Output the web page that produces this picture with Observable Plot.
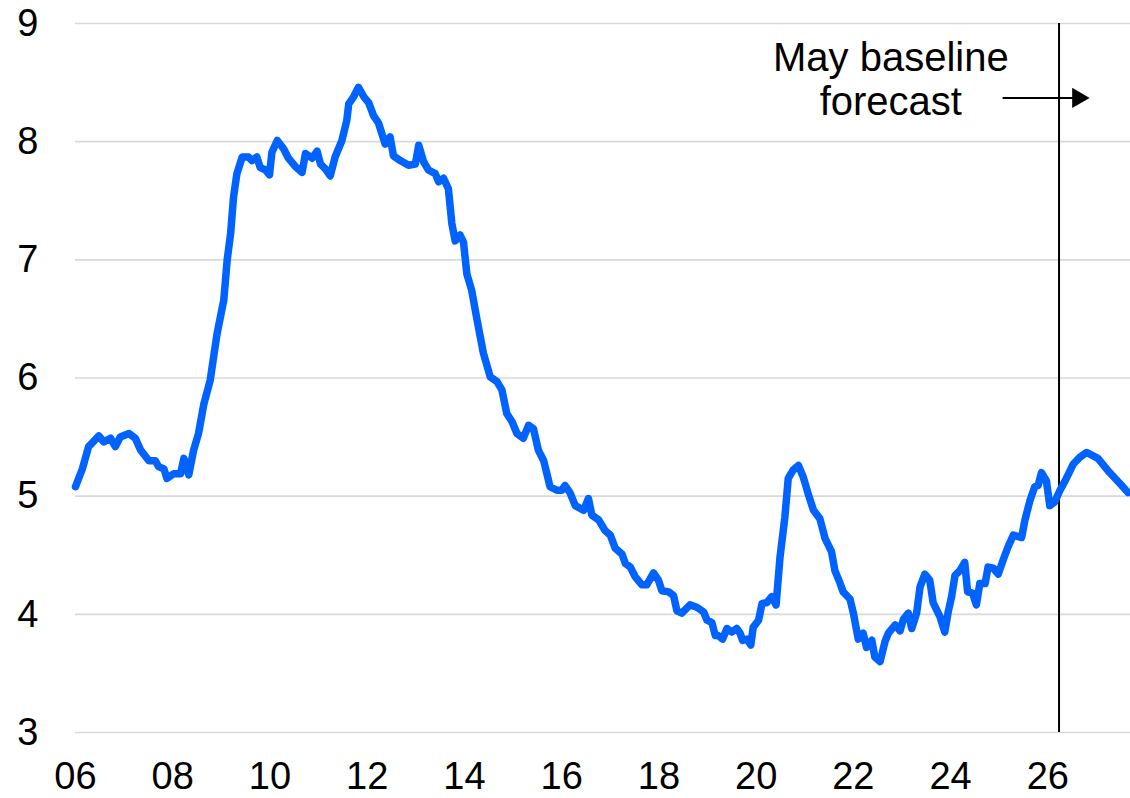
<!DOCTYPE html>
<html>
<head>
<meta charset="utf-8">
<script src="https://cdn.jsdelivr.net/npm/d3@7"></script>
<script src="https://cdn.jsdelivr.net/npm/@observablehq/plot@0.6"></script>
<style>
  html, body { margin: 0; padding: 0; background: #fff; }
  #chart svg { display: block; }
</style>
</head>
<body>
<div id="chart"></div>
<script>
// Decimal years of each reading
const years = [
  2006.00, 2006.14, 2006.27, 2006.48, 2006.58, 2006.72, 2006.82, 2006.92,
  2007.10, 2007.23, 2007.34, 2007.51, 2007.64, 2007.71, 2007.82, 2007.88,
  2008.02, 2008.16, 2008.23, 2008.33, 2008.43, 2008.53, 2008.64, 2008.77, 2008.91,
  2009.05, 2009.12, 2009.19, 2009.25, 2009.32, 2009.43, 2009.56, 2009.63, 2009.73, 2009.80, 2009.91, 2009.99,
  2010.04, 2010.15, 2010.28, 2010.38, 2010.52, 2010.66, 2010.73, 2010.87, 2010.97,
  2011.04, 2011.14, 2011.24, 2011.34, 2011.48, 2011.58, 2011.62, 2011.72, 2011.82, 2011.93,
  2012.03, 2012.13, 2012.23, 2012.37, 2012.47, 2012.54, 2012.68, 2012.85, 2012.99,
  2013.06, 2013.16, 2013.26, 2013.40, 2013.47, 2013.57, 2013.67, 2013.74, 2013.81, 2013.91, 2013.98,
  2014.05, 2014.15, 2014.26, 2014.39, 2014.53, 2014.67, 2014.77, 2014.87, 2014.98,
  2015.08, 2015.21, 2015.32, 2015.42, 2015.52, 2015.63, 2015.76, 2015.90,
  2016.00, 2016.07, 2016.17, 2016.28, 2016.45, 2016.55, 2016.62, 2016.76, 2016.89,
  2017.00, 2017.10, 2017.24, 2017.31, 2017.41, 2017.51, 2017.65, 2017.75, 2017.89, 2017.99,
  2018.06, 2018.20, 2018.30, 2018.37, 2018.47, 2018.64, 2018.78, 2018.92, 2018.99,
  2019.09, 2019.16, 2019.22, 2019.31, 2019.40, 2019.50, 2019.60, 2019.67, 2019.72, 2019.81, 2019.89, 2019.94,
  2020.05, 2020.12, 2020.22, 2020.32, 2020.41, 2020.49, 2020.59, 2020.66, 2020.76, 2020.87, 2020.97,
  2021.07, 2021.18, 2021.31, 2021.42, 2021.55, 2021.62, 2021.72, 2021.79, 2021.93,
  2022.00, 2022.10, 2022.20, 2022.27, 2022.38, 2022.44, 2022.55, 2022.65, 2022.72, 2022.86, 2022.96,
  2023.03, 2023.13, 2023.20, 2023.30, 2023.37, 2023.47, 2023.57, 2023.64, 2023.78, 2023.88, 2023.95,
  2024.02, 2024.09, 2024.19, 2024.29, 2024.35, 2024.45, 2024.53, 2024.60, 2024.71, 2024.77, 2024.88, 2024.98,
  2025.08, 2025.18, 2025.29, 2025.46, 2025.53, 2025.63, 2025.73, 2025.80, 2025.87, 2025.97,
  2026.04, 2026.14, 2026.25, 2026.38, 2026.52, 2026.66, 2026.80, 2027.03, 2027.27, 2027.52, 2027.65
];
// Values (%)
const rates = [
  5.08, 5.23, 5.42, 5.51, 5.46, 5.49, 5.42, 5.50,
  5.53, 5.49, 5.39, 5.30, 5.30, 5.25, 5.23, 5.15,
  5.19, 5.19, 5.32, 5.18, 5.39, 5.53, 5.78, 5.98, 6.37,
  6.66, 7.00, 7.22, 7.53, 7.73, 7.87, 7.87, 7.84, 7.87, 7.78, 7.76, 7.72,
  7.91, 8.01, 7.94, 7.86, 7.79, 7.74, 7.90, 7.86, 7.92,
  7.81, 7.77, 7.71, 7.87, 8.01, 8.18, 8.32, 8.38, 8.46, 8.38,
  8.33, 8.22, 8.16, 7.98, 8.04, 7.88, 7.84, 7.80, 7.81,
  7.97, 7.83, 7.76, 7.73, 7.66, 7.69, 7.60, 7.31, 7.16, 7.21, 7.15,
  6.88, 6.74, 6.49, 6.21, 6.01, 5.97, 5.90, 5.70, 5.63,
  5.53, 5.49, 5.60, 5.57, 5.39, 5.30, 5.08, 5.05,
  5.05, 5.09, 5.03, 4.92, 4.88, 4.98, 4.84, 4.80, 4.71,
  4.67, 4.56, 4.51, 4.43, 4.40, 4.32, 4.25, 4.25, 4.35, 4.29,
  4.20, 4.19, 4.16, 4.03, 4.01, 4.08, 4.06, 4.02, 3.95,
  3.93, 3.82, 3.82, 3.79, 3.88, 3.85, 3.88, 3.84, 3.78, 3.79, 3.74, 3.89,
  3.95, 4.09, 4.10, 4.15, 4.08, 4.48, 4.82, 5.15, 5.22, 5.26, 5.16,
  5.02, 4.88, 4.81, 4.64, 4.53, 4.37, 4.27, 4.19, 4.13,
  4.01, 3.79, 3.84, 3.72, 3.78, 3.64, 3.60, 3.77, 3.84, 3.91, 3.86,
  3.96, 4.01, 3.88, 4.01, 4.23, 4.34, 4.29, 4.10, 3.98, 3.85, 4.02,
  4.15, 4.33, 4.37, 4.44, 4.19, 4.18, 4.08, 4.26, 4.26, 4.40, 4.39, 4.34,
  4.46, 4.57, 4.67, 4.65, 4.80, 4.96, 5.08, 5.09, 5.20, 5.13,
  4.92, 4.95, 5.05, 5.15, 5.27, 5.33, 5.37, 5.32, 5.20, 5.09, 5.03
];

const yTicks = [3, 4, 5, 6, 7, 8, 9];
const xTicks = [2006, 2008, 2010, 2012, 2014, 2016, 2018, 2020, 2022, 2024, 2026];
const xDomain = [2006, 2027.7];
const yDomain = [3, 9];

// Forecast marker and annotation
const forecastStart = [2026.23];
const annotation = [{year: 2022.77, rate: 8.53, label: "May baseline\nforecast"}];
const arrowShaft = [{from: 2025.07, to: 2026.55, rate: 8.37}];
const arrowHead = [{year: 2026.62, rate: 8.37}];

const data = years.map((y, i) => ({year: y, rate: rates[i]}));

const chart = Plot.plot({
  width: 1130,
  height: 798,
  marginLeft: 75,
  marginRight: 0,
  marginTop: 23,
  marginBottom: 66,
  style: {
    fontFamily: "'Liberation Sans', Arial, sans-serif",
    fontSize: "38px",
    color: "#000",
    background: "#fff"
  },
  x: {
    domain: xDomain,
    ticks: xTicks,
    tickFormat: d => String(d).slice(2),
    tickSize: 0,
    tickPadding: 30,
    label: null
  },
  y: {
    domain: yDomain,
    ticks: yTicks,
    tickFormat: d => String(d),
    tickSize: 0,
    tickPadding: 37,
    label: null
  },
  marks: [
    Plot.gridY(yTicks, {stroke: "#d9d9d9", strokeOpacity: 1, strokeWidth: 1.6}),
    Plot.ruleX(forecastStart, {y1: 3, y2: 9, stroke: "#000", strokeWidth: 2}),
    Plot.line(data, {
      x: "year", y: "rate",
      stroke: "#0062ff", strokeWidth: 7.5,
      strokeLinejoin: "round", strokeLinecap: "round"
    }),
    Plot.text(annotation, {
      x: "year", y: "rate", text: "label",
      fontSize: 40, lineHeight: 1.1, fill: "#000",
      textAnchor: "middle", lineAnchor: "middle"
    }),
    Plot.link(arrowShaft, {x1: "from", x2: "to", y1: "rate", y2: "rate", stroke: "#000", strokeWidth: 2}),
    Plot.dot(arrowHead, {x: "year", y: "rate", symbol: "triangle", r: 7.5, fill: "#000", stroke: "none", rotate: 90})
  ]
});

document.getElementById("chart").appendChild(chart);
</script>
</body>
</html>
